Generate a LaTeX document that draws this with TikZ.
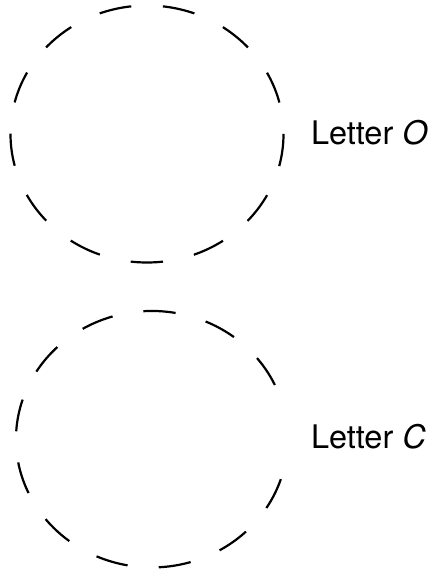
\documentclass[tikz,border=0pt]{standalone}
\usepackage{fontspec}
\setmainfont{TeX Gyre Heros}
\begin{document}
\begin{tikzpicture}[x=1pt,y=1pt,
  dashedring/.style={line width=2.2pt, dash pattern=on 32.4pt off 31.65pt},
  dashedarc/.style={line width=2.2pt, dash pattern=on 32.4pt off 31.27pt},
  lettertext/.style={anchor=base west, inner sep=0pt, font=\fontsize{32.5}{38}\selectfont}]
\useasboundingbox (0,0) rectangle (431,573);
% centres
\coordinate (cO) at (147,439);
\coordinate (cC) at (151.8,133.8);
% ring for letter O (closed, dashes start at the right, run clockwise)
\draw[dashedring] (cO) ++(0:136.5pt and 128.5pt)
  arc[start angle=0, end angle=-360, x radius=136.5pt, y radius=128.5pt];
% open ring for letter C
\draw[dashedarc] (cC) ++(25:135.8pt and 128.2pt)
  arc[start angle=25, end angle=343, x radius=135.8pt, y radius=128.2pt];
% labels
\node[lettertext] (labO) at (310.8,428) {Letter \textit{O}};
\node[lettertext] (labC) at (310.8,124.7) {Letter \textit{C}};
\end{tikzpicture}
\end{document}
